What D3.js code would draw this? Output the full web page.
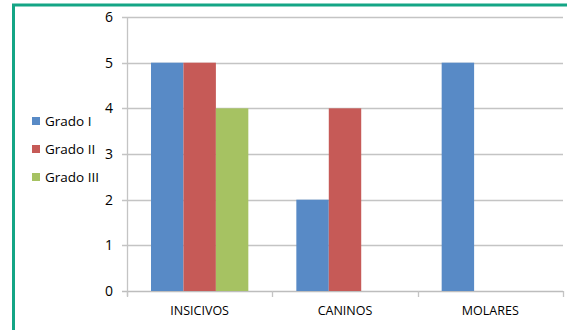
<!DOCTYPE html>
<html>
<head>
<meta charset="utf-8">
<script src="https://cdn.jsdelivr.net/npm/d3@7"></script>
<style>
  body { margin: 0; background: #fff; }
  svg { display: block; }
  text { font-family: "Open Sans", "Noto Sans", sans-serif; fill: #000; }
</style>
</head>
<body>
<div id="chart"></div>
<script>
var categories = ["INSICIVOS", "CANINOS", "MOLARES"];
var series = ["Grado I", "Grado II", "Grado III"];
var gradoI = [5, 2, 5];
var gradoII = [5, 4, null];
var gradoIII = [4, null, null];
var yTicks = [0, 1, 2, 3, 4, 5, 6];
var colors = ["#588AC6", "#C65A57", "#A6C262"];

var values = [gradoI, gradoII, gradoIII];

var W = 567, H = 330;
var plot = { left: 127, right: 563, top: 17, bottom: 291 };

var svg = d3.select("#chart").append("svg")
    .attr("width", W)
    .attr("height", H);

// green frame (cut off on the right and bottom)
svg.append("rect")
    .attr("x", 13.5).attr("y", 5)
    .attr("width", 600).attr("height", 400)
    .attr("fill", "none")
    .attr("stroke", "#14A585")
    .attr("stroke-width", 3);

var x0 = d3.scaleBand()
    .domain(categories)
    .range([plot.left, plot.right])
    .paddingInner(0)
    .paddingOuter(0);

var x1 = d3.scaleBand()
    .domain(series)
    .range([0, x0.bandwidth()])
    .paddingOuter(0.74)
    .paddingInner(0);

var y = d3.scaleLinear()
    .domain([0, 6])
    .range([plot.bottom, plot.top]);

// gridlines
svg.append("g").selectAll("line")
    .data(yTicks)
    .enter().append("line")
    .attr("x1", plot.left - 5)
    .attr("x2", plot.right)
    .attr("y1", d => Math.round(y(d)) + 0.5)
    .attr("y2", d => Math.round(y(d)) + 0.5)
    .attr("stroke", d => d === 0 ? "#bdbdbd" : "#c4c4c4")
    .attr("stroke-width", 1.3);

// y axis line
svg.append("line")
    .attr("x1", plot.left + 0.5).attr("x2", plot.left + 0.5)
    .attr("y1", plot.top).attr("y2", plot.bottom + 5)
    .attr("stroke", "#c4c4c4")
    .attr("stroke-width", 1.3);

// category ticks
svg.append("g").selectAll("line")
    .data(categories.map(c => x0(c)).concat([plot.right]))
    .enter().append("line")
    .attr("x1", d => Math.round(d) + 0.5)
    .attr("x2", d => Math.round(d) + 0.5)
    .attr("y1", plot.bottom)
    .attr("y2", plot.bottom + 6)
    .attr("stroke", "#c4c4c4")
    .attr("stroke-width", 1.3);

// y tick labels
svg.append("g").selectAll("text")
    .data(yTicks)
    .enter().append("text")
    .attr("x", 113)
    .attr("y", d => y(d))
    .attr("dy", "0.35em")
    .attr("text-anchor", "end")
    .style("font-size", "14px")
    .text(d => d);

// category labels
svg.append("g").selectAll("text")
    .data(categories)
    .enter().append("text")
    .attr("x", d => x0(d) + x0.bandwidth() / 2)
    .attr("y", 311)
    .attr("dy", "0.35em")
    .attr("text-anchor", "middle")
    .style("font-size", "12.5px")
    .text(d => d);

// bars
var groups = svg.append("g").selectAll("g")
    .data(series)
    .enter().append("g")
    .attr("fill", (_, i) => colors[i]);

groups.selectAll("rect")
    .data((s, i) => categories.map((c, j) => ({ cat: c, s: s, v: values[i][j] })).filter(d => d.v != null))
    .enter().append("rect")
    .attr("x", d => x0(d.cat) + x1(d.s))
    .attr("width", x1.bandwidth())
    .attr("y", d => y(d.v))
    .attr("height", d => y(0) - y(d.v));

// legend
var legend = svg.append("g").selectAll("g")
    .data(series)
    .enter().append("g")
    .attr("transform", (_, i) => "translate(32," + (121 + i * 28) + ")");

legend.append("rect")
    .attr("x", 0).attr("y", -4)
    .attr("width", 8).attr("height", 8)
    .attr("fill", (_, i) => colors[i]);

legend.append("text")
    .attr("x", 13)
    .attr("y", 0)
    .attr("dy", "0.35em")
    .style("font-size", "13.5px")
    .text(d => d);
</script>
</body>
</html>
